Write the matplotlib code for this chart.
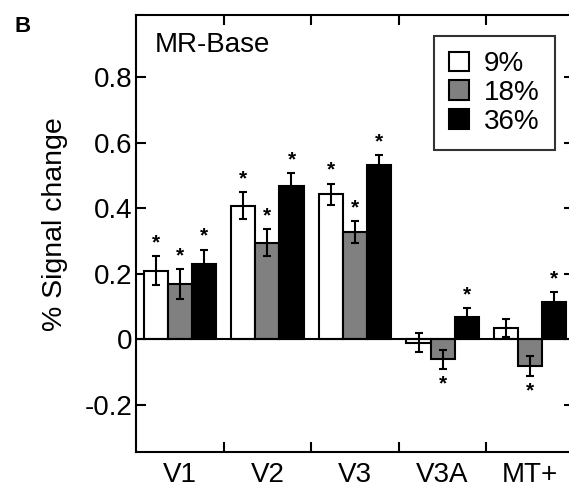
import numpy as np
import matplotlib
matplotlib.use('Agg')
from matplotlib import pyplot as plt

plt.rcParams['font.family'] = ['Liberation Sans', 'DejaVu Sans']

# data
areas = ['V1', 'V2', 'V3', 'V3A', 'MT+']
contrasts = ['9%', '18%', '36%']
vals_9 = [0.209, 0.407, 0.442, -0.011, 0.034]
vals_18 = [0.168, 0.295, 0.327, -0.062, -0.083]
vals_36 = [0.230, 0.468, 0.531, 0.067, 0.113]
err_9 = [0.044, 0.041, 0.033, 0.030, 0.028]
err_18 = [0.046, 0.040, 0.033, 0.028, 0.030]
err_36 = [0.043, 0.038, 0.030, 0.027, 0.030]
# significance markers
sig_9 = [True, True, True, False, False]
sig_18 = [True, True, True, True, True]
sig_36 = [True, True, True, True, True]

yticks = [-0.2, 0, 0.2, 0.4, 0.6, 0.8]
ytick_labels = ['-0.2', '0', '0.2', '0.4', '0.6', '0.8']

colors = ['white', '#808080', 'black']

fig = plt.figure(figsize=(5.69, 4.88), dpi=100)
ax = fig.add_axes([136/569, 1 - 452/488, (574 - 136)/569, (452 - 15)/488])

x = np.arange(len(areas))
width = 0.275
series = [vals_9, vals_18, vals_36]
errs = [err_9, err_18, err_36]
sigs = [sig_9, sig_18, sig_36]

for i in range(3):
    pos = x + (i - 1) * width
    ax.bar(pos, series[i], width, color=colors[i], edgecolor='black',
           linewidth=1.5, label=contrasts[i], zorder=2)
    ax.errorbar(pos, series[i], yerr=errs[i], fmt='none', ecolor='black',
                elinewidth=1.5, capsize=3, capthick=1.5, zorder=3)
    # asterisks above (or below for negative bars)
    for p, v, e, s in zip(pos, series[i], errs[i], sigs[i]):
        if not s:
            continue
        if v >= 0:
            ax.text(p, v + e + 0.012, '*', ha='center', va='bottom',
                    fontsize=15, fontweight='bold')
        else:
            ax.text(p, v - e - 0.075, '*', ha='center', va='bottom',
                    fontsize=15, fontweight='bold')

ax.axhline(0, color='black', linewidth=1.5, zorder=4)

ax.set_xlim(-0.5, len(areas) - 0.5)
ax.set_ylim(-0.345, 0.99)

ax.set_xticks(x)
ax.set_xticklabels(areas, fontsize=20)
ax.set_xticks(np.arange(len(areas) - 1) + 0.5, minor=True)
ax.tick_params(axis='x', which='major', length=0, pad=7)
ax.tick_params(axis='x', which='minor', direction='in', length=7, width=1.5,
               top=True, bottom=True)

ax.set_yticks(yticks)
ax.set_yticklabels(ytick_labels, fontsize=20)
ax.tick_params(axis='y', direction='in', length=7, width=1.5, left=True,
               right=True, pad=2.5)

for s in ax.spines.values():
    s.set_linewidth(1.5)

ax.set_ylabel('% Signal change', fontsize=20.5)
ax.yaxis.set_label_coords(-0.155, 0.522)

ax.text(0.043, 0.96, 'MR-Base', transform=ax.transAxes, fontsize=20,
        ha='left', va='top')
fig.text(15/569, 1 - 27/488, 'B', fontsize=16, fontweight='bold',
         ha='left', va='center')

leg = ax.legend(loc='upper right', bbox_to_anchor=(0.957, 0.952),
                fontsize=20, frameon=True, fancybox=False, edgecolor='black',
                handlelength=0.72, handleheight=0.72, handletextpad=0.54,
                labelspacing=0.1, borderpad=0.55, borderaxespad=0)
leg.get_frame().set_linewidth(1.5)
for h in leg.legend_handles:
    h.set_edgecolor('black')

fig.savefig('out.png', dpi=100)
